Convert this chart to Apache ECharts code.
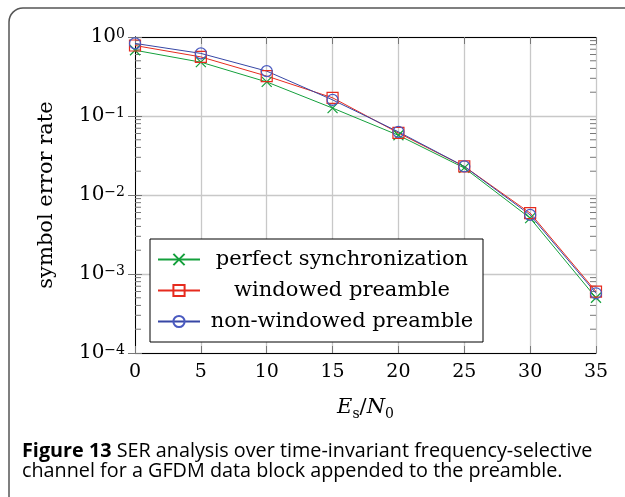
<!DOCTYPE html>
<html>
<head>
<meta charset="utf-8">
<script src="https://cdn.jsdelivr.net/npm/echarts@6/dist/echarts.min.js"></script>
<style>
  html, body { margin: 0; padding: 0; background: #fff; }
  #chart { width: 625px; height: 497px; }
</style>
</head>
<body>
<div id="chart"></div>
<script>
// 数据
var snrValues = [0, 5, 10, 15, 20, 25, 30, 35];
var perfectSync = [0.68, 0.48, 0.27, 0.126, 0.057, 0.022, 0.0051, 0.0005];
var windowedPreamble = [0.78, 0.56, 0.32, 0.17, 0.061, 0.023, 0.0059, 0.0006];
var nonWindowedPreamble = [0.83, 0.62, 0.37, 0.16, 0.063, 0.023, 0.0056, 0.00057];
var seriesNames = ['perfect synchronization', 'windowed preamble', 'non-windowed preamble'];
// y轴刻度 (十的幂)
var yDecades = [1e-4, 1e-3, 1e-2, 1e-1, 1];
var minorFactors = [2, 3, 4, 5, 6, 7, 8, 9];

(function () {
  var myChart = echarts.init(document.getElementById('chart'));
  var serif = '"DejaVu Serif", serif';
  var green = '#14a03c', red = '#e62b1e', blue = '#3747a5';
  var crossPath = 'path://M0,0L10,10M10,0L0,10';

  function pairs(ys) {
    return snrValues.map(function (x, i) { return [x, ys[i]]; });
  }

  // 次刻度位置
  var minorTicks = [];
  yDecades.slice(0, -1).forEach(function (d) {
    minorFactors.forEach(function (f) { minorTicks.push([0, d * f]); });
  });

  var tickStyle = { color: '#777', width: 1 };
  var boxLine = { show: true, lineStyle: { color: '#000', width: 1 } };

  var option = {
    animation: false,
    grid: { left: 135, right: 29, top: 37, bottom: 144 },
    legend: {
      data: seriesNames,
      orient: 'vertical',
      left: 150,
      top: 239,
      backgroundColor: '#fff',
      borderColor: '#000',
      borderWidth: 1,
      padding: [10, 4, 10, 7],
      itemWidth: 42,
      itemHeight: 14,
      itemGap: 10,
      lineStyle: { width: 2 },
      formatter: function (name) { return '{t|' + name + '}'; },
      textStyle: {
        rich: {
          t: { width: 274, align: 'center', fontSize: 21, lineHeight: 24, fontFamily: serif, color: '#000' }
        }
      }
    },
    xAxis: [{
      type: 'value',
      min: 0, max: 35, interval: 5,
      position: 'bottom',
      axisLine: boxLine,
      axisTick: { inside: true, length: 7, lineStyle: tickStyle },
      axisLabel: { fontFamily: serif, fontSize: 19, color: '#000', margin: 10 },
      splitLine: { show: true, lineStyle: { color: '#c8c8c8', width: 1.3 } },
      name: '{i|E}{sub|s}{r|/}{i|N}{sub|0}',
      nameLocation: 'middle',
      nameGap: 44,
      nameTextStyle: {
        rich: {
          i: { fontFamily: serif, fontStyle: 'italic', fontSize: 21, lineHeight: 24, verticalAlign: 'top', color: '#000' },
          r: { fontFamily: serif, fontSize: 21, lineHeight: 24, verticalAlign: 'top', color: '#000' },
          sub: { fontFamily: serif, fontSize: 14, lineHeight: 14, padding: [10, 0, 0, 0], verticalAlign: 'bottom', color: '#000' }
        }
      }
    }, {
      type: 'value',
      min: 0, max: 35, interval: 5,
      position: 'top',
      axisLine: boxLine,
      axisTick: { inside: true, length: 7, lineStyle: tickStyle },
      axisLabel: { show: false },
      splitLine: { show: false }
    }],
    yAxis: [{
      type: 'log',
      logBase: 10,
      min: yDecades[0], max: yDecades[yDecades.length - 1],
      splitNumber: 4,
      position: 'left',
      axisLine: boxLine,
      axisTick: { inside: true, length: 7, lineStyle: tickStyle },
      axisLabel: {
        margin: 10,
        formatter: function (v) {
          var e = Math.round(Math.log10(v));
          return '{b|10}{s|' + (e === 0 ? '0' : '\u2212' + Math.abs(e)) + '}';
        },
        rich: {
          b: { fontFamily: serif, fontSize: 20, lineHeight: 20, verticalAlign: 'bottom', color: '#000' },
          s: { fontFamily: serif, fontSize: 14, lineHeight: 14, padding: [0, 0, 10, 0], verticalAlign: 'top', color: '#000' }
        }
      },
      splitLine: { show: true, lineStyle: { color: '#c8c8c8', width: 1.3 } },
      name: 'symbol error rate',
      nameLocation: 'middle',
      nameGap: 78,
      nameTextStyle: { fontFamily: serif, fontSize: 21, color: '#000' }
    }, {
      type: 'log',
      logBase: 10,
      min: yDecades[0], max: yDecades[yDecades.length - 1],
      splitNumber: 4,
      position: 'right',
      axisLine: boxLine,
      axisTick: { inside: true, length: 7, lineStyle: tickStyle },
      axisLabel: { show: false },
      splitLine: { show: false }
    }],
    series: [{
      name: seriesNames[0],
      type: 'line',
      data: pairs(perfectSync),
      symbol: crossPath,
      symbolSize: 10,
      lineStyle: { color: green, width: 1 },
      itemStyle: { color: green, borderColor: green, borderWidth: 1.2 }
    }, {
      name: seriesNames[1],
      type: 'line',
      data: pairs(windowedPreamble),
      symbol: 'rect',
      symbolSize: 11,
      lineStyle: { color: red, width: 1 },
      itemStyle: { color: 'none', borderColor: red, borderWidth: 1.2 }
    }, {
      name: seriesNames[2],
      type: 'line',
      data: pairs(nonWindowedPreamble),
      symbol: 'circle',
      symbolSize: 11,
      lineStyle: { color: blue, width: 1 },
      itemStyle: { color: 'none', borderColor: '#4a5ac0', borderWidth: 1.2 }
    }, {
      // 左右两侧的次刻度
      type: 'custom',
      silent: true,
      data: minorTicks,
      renderItem: function (params, api) {
        var v = api.value(1);
        var l = api.coord([snrValues[0], v]);
        var r = api.coord([snrValues[snrValues.length - 1], v]);
        return {
          type: 'group',
          children: [
            { type: 'line', shape: { x1: l[0], y1: l[1], x2: l[0] + 6, y2: l[1] }, style: { stroke: '#777', lineWidth: 1 } },
            { type: 'line', shape: { x1: r[0] - 6, y1: r[1], x2: r[0], y2: r[1] }, style: { stroke: '#777', lineWidth: 1 } }
          ]
        };
      }
    }],
    graphic: [{
      type: 'rect',
      silent: true,
      z: -10,
      shape: { x: 9, y: 8, width: 900, height: 900, r: 14 },
      style: { fill: 'none', stroke: '#555', lineWidth: 1.5 }
    }, {
      type: 'text',
      left: 22,
      top: 441,
      style: {
        text: '{b|Figure 13} SER analysis over time-invariant frequency-selective\nchannel for a GFDM data block appended to the preamble.',
        font: '19.8px "Open Sans", sans-serif',
        fill: '#000',
        lineHeight: 20.5,
        rich: {
          b: { fontWeight: 'bold', fontFamily: '"Open Sans", sans-serif', fontSize: 19.8, fill: '#000' }
        }
      }
    }]
  };

  myChart.setOption(option);

  window.addEventListener('resize', function () {
    myChart.resize();
  });
})();
</script>
</body>
</html>
